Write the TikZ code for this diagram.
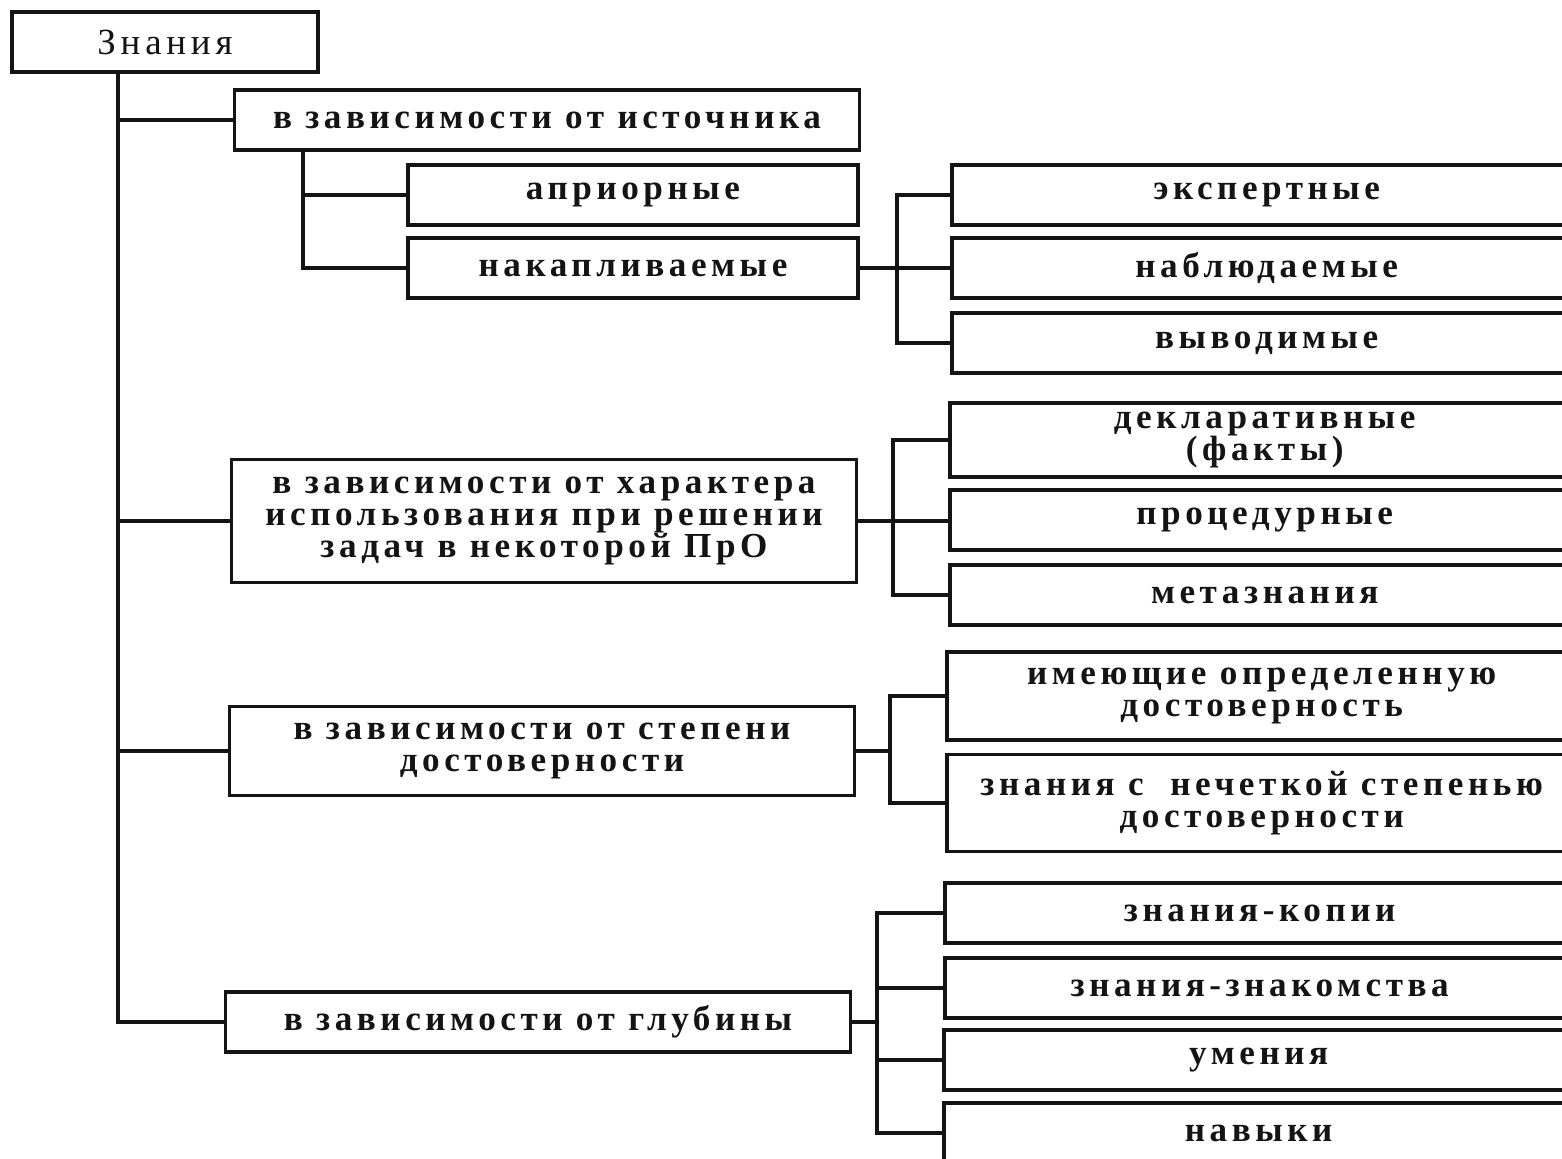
\documentclass[tikz,border=0pt]{standalone}
\usepackage{fontspec}
\setmainfont{Liberation Serif}[LetterSpace=13]
\usetikzlibrary{positioning,calc}
\definecolor{InkBlack}{HTML}{141414}
\tikzset{
  rootbox/.style={draw=InkBlack, line width=2pt, fill=white, align=center,
                  font=\fontsize{21}{20}\selectfont\color{InkBlack},
                  minimum width=6.12cm, minimum height=1.2cm, inner sep=2pt},
  groupbox/.style={draw=InkBlack, line width=2pt, fill=white, align=center,
                   font=\fontsize{20}{18.4}\selectfont\bfseries\color{InkBlack},
                   minimum width=12.5cm, minimum height=1.2cm, inner sep=2pt},
  subbox/.style={groupbox, minimum width=9cm},
  leafbox/.style={groupbox, anchor=west, minimum width=12.6cm},
  link/.style={line width=2pt, InkBlack},
}
\begin{document}
\begin{tikzpicture}[x=0.02cm, y=-0.02cm]
  \useasboundingbox (0,0) rectangle (1562,1159);

  \node[rootbox] (root) at (165,42) {Знания};

  \node[groupbox] (src) at (547,120) {в зависимости от источника};
  \node[subbox] (apr) at (633,195) {априорные};
  \node[subbox] (nak) at (633,268) {накапливаемые};
  \node[leafbox] (exp) at (950,195) {экспертные};
  \node[leafbox] (nab) at (950,268) {наблюдаемые};
  \node[leafbox] (vyv) at (950,343) {выводимые};

  \node[groupbox, minimum height=2.46cm] (use) at (544,521)
       {в зависимости от характера\\использования при решении\\задач в некоторой ПрО};
  \node[leafbox, minimum height=1.48cm] (decl) at (948,440) {декларативные\\(факты)};
  \node[leafbox] (proc) at (948,520) {процедурные};
  \node[leafbox] (meta) at (948,595) {метазнания};

  \node[groupbox, minimum height=1.78cm] (rel) at (542,751)
       {в зависимости от степени\\достоверности};
  \node[leafbox, minimum height=1.76cm] (sure) at (945,696)
       {имеющие определенную\\достоверность};
  \node[leafbox, minimum height=1.94cm] (fuzzy) at (945,803)
       {знания с\ \ нечеткой степенью\\достоверности};

  \node[groupbox] (depth) at (538,1022) {в зависимости от глубины};
  \node[leafbox] (copy) at (943,913) {знания-копии};
  \node[leafbox] (acq) at (943,988) {знания-знакомства};
  \node[leafbox] (skill) at (942,1060) {умения};
  \node[leafbox] (habit) at (942,1133) {навыки};

  % main trunk
  \coordinate (trunk) at (118,72);
  \draw[link] (trunk) |- (depth.west);
  \foreach \g in {src,use,rel}
    \draw[link] (\g.west) -- (\g.west -| trunk);

  % source branch
  \coordinate (srcfork) at (303,150);
  \draw[link] (srcfork) |- (apr.west);
  \draw[link] (srcfork) |- (nak.west);

  % right forks
  \coordinate (forkA) at (897,268);
  \draw[link] (nak.east) -- (nab.west);
  \draw[link] (exp.west) -| (forkA) |- (vyv.west);

  \coordinate (forkB) at (893,521);
  \draw[link] (use.east) -- (proc.west |- use.east);
  \draw[link] (decl.west) -| (forkB) |- (meta.west);

  \coordinate (forkC) at (890,751);
  \draw[link] (rel.east) -- (forkC);
  \draw[link] (sure.west) -| (forkC) |- (fuzzy.west);

  \coordinate (forkD) at (877,1022);
  \draw[link] (depth.east) -- (forkD);
  \draw[link] (copy.west) -| (forkD) |- (habit.west);
  \draw[link] (acq.west) -| (forkD);
  \draw[link] (skill.west) -| (forkD);
\end{tikzpicture}
\end{document}
